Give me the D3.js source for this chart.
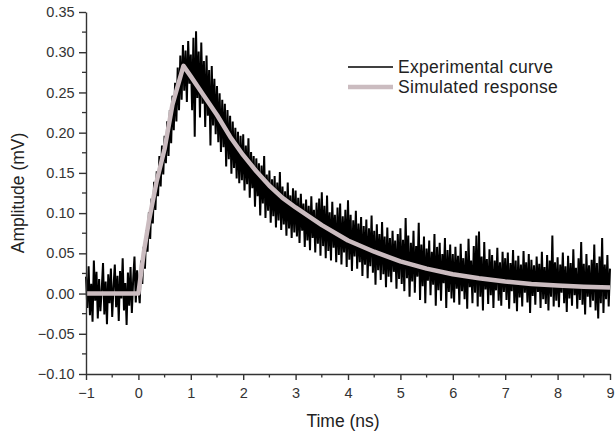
<!DOCTYPE html>
<html>
<head>
<meta charset="utf-8">
<script src="https://cdn.jsdelivr.net/npm/d3@7"></script>
<style>
  body { margin: 0; background: #fff; }
  svg { display: block; font-family: Arial, "Liberation Sans", sans-serif; }
</style>
</head>
<body>
<div id="root"></div>
<script>
// sampled trace: starts at -1 ns, one sample every 0.025 ns
const expStart = -1
const expStep = 0.025
const expAmp = [
  0.021,-0.018,0.034,-0.027,0.012,-0.035,0.041,-0.009,0.027,-0.031,0.018,-0.022,0.005,0.038,-0.026,0.015,-0.038,0.024,-0.012,0.031,
  -0.029,0.009,0.036,-0.017,0.022,-0.034,0.028,-0.006,0.044,-0.021,0.013,-0.039,0.026,-0.015,0.033,-0.024,0.017,0.046,-0.011,0.029,
  0.008,-0.012,0.041,0.012,0.058,0.031,0.079,0.052,0.101,0.068,0.118,0.087,0.139,0.104,0.152,0.121,0.171,0.133,0.184,0.148,
  0.196,0.162,0.214,0.171,0.228,0.187,0.246,0.203,0.262,0.214,0.281,0.228,0.296,0.241,0.309,0.252,0.302,0.238,0.314,0.261,
  0.297,0.228,0.318,0.195,0.326,0.243,0.301,0.219,0.312,0.236,0.289,0.207,0.296,0.221,0.278,0.184,0.283,0.209,0.267,0.198,
  0.258,0.188,0.249,0.176,0.241,0.182,0.236,0.158,0.228,0.167,0.221,0.149,0.214,0.156,0.206,0.143,0.201,0.137,0.196,0.141,
  0.198,0.128,0.184,0.136,0.193,0.119,0.176,0.131,0.171,0.108,0.168,0.121,0.162,0.097,0.159,0.112,0.171,0.094,0.148,0.103,
  0.153,0.088,0.142,0.096,0.146,0.082,0.138,0.091,0.151,0.079,0.133,0.086,0.127,0.072,0.138,0.081,0.122,0.069,0.131,0.076,
  0.128,0.071,0.119,0.063,0.124,0.078,0.112,0.058,0.117,0.066,0.109,0.054,0.121,0.069,0.104,0.051,0.113,0.062,0.118,0.047,
  0.126,0.059,0.109,0.044,0.122,0.053,0.101,0.041,0.114,0.057,0.098,0.039,0.107,0.048,0.112,0.036,0.096,0.051,0.104,0.033,
  0.116,0.042,0.098,0.028,0.091,0.046,0.103,0.031,0.087,0.039,0.095,0.022,0.084,0.036,0.092,0.019,0.081,0.034,0.097,0.026,
  0.078,0.011,0.086,0.029,0.074,0.017,0.089,0.024,0.071,0.008,0.082,0.021,0.069,0.014,0.078,0.027,0.066,0.006,0.074,0.018,
  0.081,0.012,0.067,0.003,0.094,0.019,0.072,-0.004,0.063,0.015,0.078,0.001,0.059,0.021,0.088,-0.008,0.061,0.009,0.071,-0.012,
  0.056,0.016,0.066,-0.002,0.052,0.011,0.074,-0.015,0.058,0.004,0.063,-0.009,0.049,0.013,0.069,-0.018,0.054,0.002,0.061,-0.006,
  0.049,-0.011,0.058,0.006,0.047,-0.014,0.062,0.003,0.044,-0.007,0.053,-0.019,0.068,0.008,0.041,-0.012,0.059,0.001,0.072,-0.016,
  0.077,-0.004,0.046,-0.021,0.064,0.005,0.043,-0.013,0.055,-0.002,0.048,-0.018,0.041,0.004,0.057,-0.009,0.039,-0.015,0.052,0.002,
  0.044,-0.008,0.051,-0.019,0.038,0.003,0.054,-0.012,0.041,-0.022,0.047,-0.005,0.036,-0.016,0.053,0.001,0.039,-0.011,0.049,-0.024,
  0.042,-0.003,0.035,-0.014,0.046,0.002,0.037,-0.018,0.052,-0.007,0.033,-0.013,0.048,-0.021,0.041,-0.004,0.072,-0.016,0.039,-0.009,
  0.045,-0.017,0.036,0.001,0.051,-0.012,0.034,-0.023,0.047,-0.006,0.038,-0.015,0.055,-0.002,0.032,-0.019,0.044,-0.008,0.064,-0.014,
  0.037,-0.026,0.049,-0.004,0.035,-0.017,0.042,-0.009,0.061,-0.021,0.038,-0.031,0.046,-0.012,0.069,-0.024,0.036,-0.007,0.048,-0.016,
  0.031
]

const simTime = [-1, 0, 0.1, 0.2, 0.35, 0.5, 0.65, 0.86, 1.0, 1.25, 1.5, 1.75, 2.0, 2.25, 2.5, 2.75, 3.0, 3.5, 4.0, 4.5, 5.0, 5.5, 6.0, 6.5, 7.0, 7.5, 8.0, 8.5, 9.0]
const simAmp = [0, 0, 0.05, 0.09, 0.14, 0.18, 0.235, 0.283, 0.27, 0.246, 0.222, 0.195, 0.172, 0.152, 0.134, 0.119, 0.107, 0.085, 0.066, 0.052, 0.040, 0.031, 0.024, 0.019, 0.015, 0.012, 0.010, 0.0085, 0.0075]

const xTicks = [-1, 0, 1, 2, 3, 4, 5, 6, 7, 8, 9]
const yTicks = [-0.10, -0.05, 0.00, 0.05, 0.10, 0.15, 0.20, 0.25, 0.30, 0.35]
const seriesNames = ["Experimental curve", "Simulated response"]

const w = 615
const h = 433
const simColor = "#cbbcc0"
const axisColor = "#333"

const x = d3.scaleLinear().domain([-1, 9]).range([86, 610])
const y = d3.scaleLinear().domain([-0.10, 0.35]).range([374, 12])

const svg = d3.select("#root")
    .append("svg")
    .attr("width", w)
    .attr("height", h)

const expData = expAmp.map((v, i) => [expStart + i * expStep, v])
const simData = simTime.map((t, i) => [t, simAmp[i]])

const line = d3.line()
    .x(d => x(d[0]))
    .y(d => y(d[1]))

svg.append("path")
    .datum(expData)
    .attr("fill", "none")
    .attr("stroke", "#000")
    .attr("stroke-width", 2)
    .attr("d", line)

svg.append("path")
    .datum(simData)
    .attr("fill", "none")
    .attr("stroke", simColor)
    .attr("stroke-width", 4.5)
    .attr("stroke-linejoin", "round")
    .attr("d", line)

// minor ticks at the half steps
const xMinor = d3.range(-0.5, 9, 1)
const yMinor = d3.range(-0.075, 0.35, 0.05)

const xAxis = svg.append("g")
    .attr("transform", `translate(0,${y(-0.10)})`)
    .call(d3.axisBottom(x).tickValues(xTicks).tickSize(6).tickSizeOuter(0).tickFormat(d3.format("d")))
xAxis.selectAll(".minor")
    .data(xMinor)
    .enter()
    .append("line")
    .attr("class", "minor")
    .attr("x1", d => x(d)).attr("x2", d => x(d))
    .attr("y1", 0).attr("y2", 3.5)
    .attr("stroke", axisColor)
    .attr("stroke-width", 1.3)

const yAxis = svg.append("g")
    .attr("transform", `translate(${x(-1)},0)`)
    .call(d3.axisLeft(y).tickValues(yTicks).tickSize(7).tickSizeOuter(0).tickFormat(d3.format(".2f")))
yAxis.selectAll(".minor")
    .data(yMinor)
    .enter()
    .append("line")
    .attr("class", "minor")
    .attr("y1", d => y(d)).attr("y2", d => y(d))
    .attr("x1", 0).attr("x2", -4)
    .attr("stroke", axisColor)
    .attr("stroke-width", 1.3)

svg.selectAll(".domain, .tick line")
    .attr("stroke", axisColor)
    .attr("stroke-width", 1.4)
svg.selectAll(".tick text")
    .attr("fill", "#333")
    .style("font-size", "14.5px")
xAxis.selectAll(".tick text").attr("dy", "1.05em")
yAxis.selectAll(".tick text").attr("dx", "-0.1em")

svg.append("text")
    .attr("x", 343)
    .attr("y", 427)
    .attr("text-anchor", "middle")
    .attr("fill", "#222")
    .style("font-size", "17.5px")
    .text("Time (ns)")

svg.append("text")
    .attr("transform", `translate(24,${y(0.125)}) rotate(-90)`)
    .attr("text-anchor", "middle")
    .attr("fill", "#222")
    .style("font-size", "17.5px")
    .text("Amplitude (mV)")

const legend = svg.append("g").attr("transform", "translate(348,67)")
const legendRows = legend.selectAll("g")
    .data(seriesNames)
    .enter()
    .append("g")
    .attr("transform", (d, i) => `translate(0,${i * 20})`)
legendRows.append("line")
    .attr("x1", 0).attr("x2", 45)
    .attr("stroke", (d, i) => i === 0 ? "#000" : simColor)
    .attr("stroke-width", (d, i) => i === 0 ? 1.6 : 4.5)
legendRows.append("text")
    .attr("x", 50)
    .attr("y", 6)
    .attr("fill", "#222")
    .style("font-size", "17.5px")
    .style("letter-spacing", "0.3px")
    .text(d => d)
</script>
</body>
</html>
